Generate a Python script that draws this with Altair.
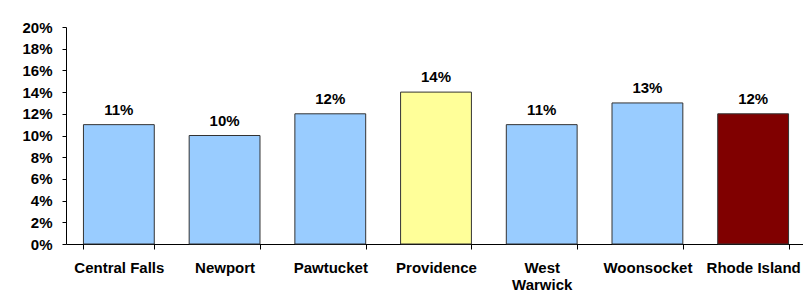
import altair as alt
import pandas as pd

cities = ["Central Falls", "Newport", "Pawtucket", "Providence",
          "West Warwick", "Woonsocket", "Rhode Island"]
rates = [0.11, 0.10, 0.12, 0.14, 0.11, 0.13, 0.12]
bar_colors = ["#99ccff", "#99ccff", "#99ccff", "#ffff99",
              "#99ccff", "#99ccff", "#800000"]
y_ticks = [0, 0.02, 0.04, 0.06, 0.08, 0.10, 0.12, 0.14, 0.16, 0.18, 0.20]

df = pd.DataFrame({"city": cities, "rate": rates})

FONT = "Liberation Sans"

x = alt.X(
    "city:N", sort=cities, title=None,
    scale=alt.Scale(range=[0, 740], paddingInner=0.33, paddingOuter=0.165),
    axis=alt.Axis(
        labelAngle=0, labelFont=FONT, labelFontSize=15, labelFontWeight="bold",
        labelColor="black", labelPadding=11, tickSize=5, tickColor="black",
        domainColor="black", tickBand="extent", labelLineHeight=17,
        labelExpr="datum.label == 'West Warwick' ? ['West', 'Warwick'] : datum.label",
    ),
)
y = alt.Y(
    "rate:Q", title=None,
    scale=alt.Scale(domain=[0, 0.2], nice=False),
    axis=alt.Axis(
        values=y_ticks, format=".0%", labelFont=FONT, labelFontSize=15,
        labelFontWeight="bold", labelColor="black", labelPadding=10,
        tickSize=4, tickColor="black", domainColor="black", grid=False,
    ),
)

base = alt.Chart(df)
bars = base.mark_bar(stroke="#333333", strokeWidth=1).encode(
    x=x, y=y,
    color=alt.Color("city:N", scale=alt.Scale(domain=cities, range=bar_colors), legend=None),
)
labels = base.mark_text(
    font=FONT, fontSize=15, fontWeight="bold", baseline="alphabetic", dy=-10, color="black"
).encode(x=x, y=y, text=alt.Text("rate:Q", format=".0%"))

chart = (bars + labels).properties(
    width=737, height=217, autosize="none",
    padding={"left": 58, "top": 19, "right": 0, "bottom": 48},
    background="white",
).configure_view(stroke=None).configure_axis(grid=False)

chart.save("out.html", embed_options={"renderer": "svg", "actions": False})
